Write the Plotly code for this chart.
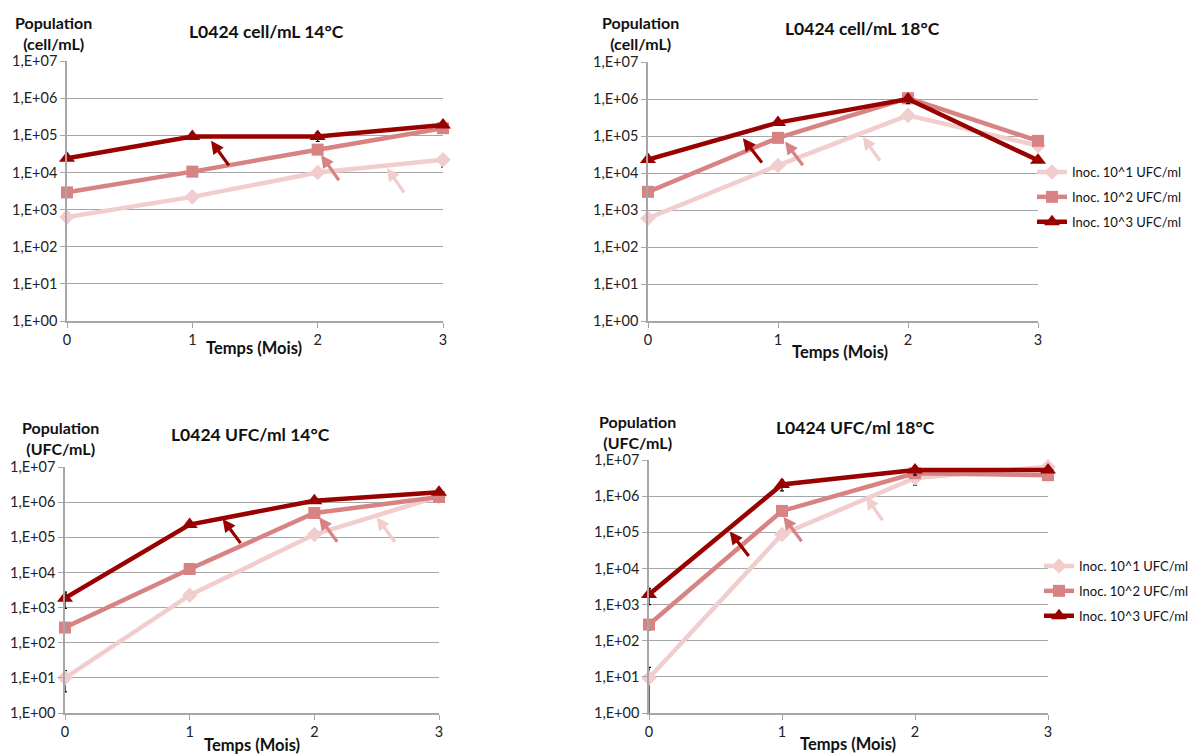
import numpy as np
import plotly.graph_objects as go

W, H = 1189, 754

months = [0, 1, 2, 3]
series_names = ["Inoc. 10^1 UFC/ml", "Inoc. 10^2 UFC/ml", "Inoc. 10^3 UFC/ml"]
tick_vals = [1, 10, 100, 1e3, 1e4, 1e5, 1e6, 1e7]
tick_text = ["1,E+00", "1,E+01", "1,E+02", "1,E+03", "1,E+04", "1,E+05", "1,E+06", "1,E+07"]

# Panel 1: cell/mL 14°C
cell14_s1 = [630, 2200, 10000, 22000]
cell14_s2 = [2900, 10500, 41000, 155000]
cell14_s3 = [24000, 93000, 93000, 190000]
cell14_e1 = [0, 0, 0, 8000]
cell14_e2 = [0, 0, 5000, 20000]
cell14_e3 = [0, 0, 25000, 0]

# Panel 2: cell/mL 18°C
cell18_s1 = [600, 16000, 360000, 55000]
cell18_s2 = [3100, 89000, 1050000, 74000]
cell18_s3 = [23000, 230000, 1000000, 22000]
cell18_e1 = [0, 0, 0, 0]
cell18_e2 = [0, 0, 200000, 0]
cell18_e3 = [0, 0, 250000, 0]

# Panel 3: UFC/ml 14°C
ufc14_s1 = [10, 2250, 120000, 1450000]
ufc14_s2 = [270, 12500, 490000, 1400000]
ufc14_s3 = [1850, 230000, 1100000, 1900000]
ufc14_e1 = [6, 300, 0, 0]
ufc14_e2 = [40, 0, 0, 0]
ufc14_e3 = [900, 40000, 0, 0]

# Panel 4: UFC/ml 18°C
ufc18_s1 = [9.3, 87000, 3200000, 6500000]
ufc18_s2 = [280, 390000, 4300000, 3800000]
ufc18_s3 = [1900, 2100000, 5300000, 5300000]
ufc18_e1 = [9, 15000, 1200000, 0]
ufc18_e2 = [80, 0, 0, 0]
ufc18_e3 = [900, 700000, 1500000, 0]

colors = ["#F2CDCD", "#D88383", "#990000"]
symbols = ["diamond", "square", "triangle-up"]
msizes = [12, 12, 14]

FONT = "Lato, 'Open Sans', sans-serif"

# panel plot-area boxes in pixels: (left, right, top, bottom)
boxes = [
    (67, 443, 61, 321),
    (648, 1038, 62, 321),
    (65, 439, 467, 713),
    (649, 1048, 460, 713),
]
titles = ["L0424 cell/mL 14°C", "L0424 cell/mL 18°C", "L0424 UFC/ml 14°C", "L0424 UFC/ml 18°C"]
title_pos = [(266, 31), (862, 29), (250, 434), (855, 428)]
ytitles = ["Population<br>(cell/mL)", "Population<br>(cell/mL)", "Population<br>(UFC/mL)", "Population<br>(UFC/mL)"]
ytitle_pos = [(53, 33), (640, 33), (60, 438), (637, 432)]
xtitle_pos = [(254, 348), (840, 352), (252, 745), (848, 744)]

panels = [
    ([cell14_s1, cell14_s2, cell14_s3], [cell14_e1, cell14_e2, cell14_e3]),
    ([cell18_s1, cell18_s2, cell18_s3], [cell18_e1, cell18_e2, cell18_e3]),
    ([ufc14_s1, ufc14_s2, ufc14_s3], [ufc14_e1, ufc14_e2, ufc14_e3]),
    ([ufc18_s1, ufc18_s2, ufc18_s3], [ufc18_e1, ufc18_e2, ufc18_e3]),
]

# arrows: (series index, head x, head log10 y, tail x, tail log10 y)
arrows = [
    [(2, 1.149, 4.85, 1.30, 4.15), (1, 2.027, 4.47, 2.178, 3.75), (0, 2.553, 4.12, 2.697, 3.42)],
    [(2, 0.73, 4.94, 0.885, 4.24), (1, 1.054, 4.85, 1.20, 4.17), (0, 1.654, 4.98, 1.792, 4.29)],
    [(2, 1.265, 5.52, 1.417, 4.79), (1, 2.039, 5.57, 2.192, 4.83), (0, 2.50, 5.57, 2.655, 4.83)],
    [(2, 0.607, 5.02, 0.759, 4.30), (1, 1.011, 5.43, 1.155, 4.71), (0, 1.632, 5.99, 1.763, 5.29)],
]

fig = go.Figure()
annotations = []
layout = {}

for p, ((vals, errs), box) in enumerate(zip(panels, boxes)):
    l, r, t, b = box
    xa = "xaxis" if p == 0 else f"xaxis{p+1}"
    ya = "yaxis" if p == 0 else f"yaxis{p+1}"
    xr = "x" if p == 0 else f"x{p+1}"
    yr = "y" if p == 0 else f"y{p+1}"
    layout[xa] = dict(
        domain=[l / W, r / W], anchor=yr, range=[0, 3], tickvals=months,
        ticktext=[str(m) for m in months], showgrid=False, zeroline=False,
        showline=True, linecolor="#A6A6A6", linewidth=1.5,
        ticks="outside", ticklen=5, tickcolor="#A6A6A6", automargin=False,
        tickfont=dict(family=FONT, size=14.5, color="#222"), fixedrange=True,
    )
    layout[ya] = dict(
        domain=[1 - b / H, 1 - t / H], anchor=xr, type="log", range=[0, 7],
        tickvals=tick_vals, ticktext=tick_text, showgrid=True,
        gridcolor="#A6A6A6", gridwidth=1.2, zeroline=False, showline=True,
        linecolor="#A6A6A6", linewidth=1.5, ticks="outside", ticklen=5,
        tickcolor="#A6A6A6", tickfont=dict(family=FONT, size=14.5, color="#222"),
        fixedrange=True, automargin=False,
    )
    leg = None
    if p == 1:
        leg = "legend"
    elif p == 3:
        leg = "legend2"
    for s in range(3):
        fig.add_trace(go.Scatter(
            x=months, y=vals[s], name=series_names[s], mode="lines+markers",
            xaxis=xr, yaxis=yr,
            line=dict(color=colors[s], width=4.5),
            marker=dict(symbol=symbols[s], size=msizes[s], color=colors[s]),
            error_y=dict(type="data", array=errs[s], visible=True,
                         color="#000000", thickness=1.2, width=2),
            showlegend=leg is not None, legend=leg if leg else "legend",
            legendgroup=f"{p}-{s}", cliponaxis=False,
        ))
    for (s, hx, hy, tx, ty) in arrows[p]:
        annotations.append(dict(
            x=hx, y=hy, ax=tx, ay=ty, xref=xr, yref=yr, axref=xr, ayref=yr,
            text="", showarrow=True, arrowhead=2, arrowsize=0.8,
            arrowwidth=3.2, arrowcolor=colors[s],
        ))
    annotations.append(dict(
        x=title_pos[p][0] / W, y=1 - title_pos[p][1] / H, xref="paper", yref="paper",
        text=f"<b>{titles[p]}</b>", showarrow=False,
        font=dict(family=FONT, size=17.5, color="#111"),
        xanchor="center", yanchor="middle",
    ))
    annotations.append(dict(
        x=ytitle_pos[p][0] / W, y=1 - ytitle_pos[p][1] / H, xref="paper", yref="paper",
        text=f"<b>{ytitles[p]}</b>", showarrow=False,
        font=dict(family=FONT, size=16, color="#111"),
        xanchor="center", yanchor="middle", align="center",
    ))
    annotations.append(dict(
        x=xtitle_pos[p][0] / W, y=1 - xtitle_pos[p][1] / H, xref="paper", yref="paper",
        text="<b>Temps (Mois)</b>", showarrow=False,
        font=dict(family=FONT, size=16.5, color="#111"),
        xanchor="center", yanchor="middle",
    ))

fig.update_layout(
    width=W, height=H,
    margin=dict(l=0, r=0, t=0, b=0, autoexpand=False),
    paper_bgcolor="white", plot_bgcolor="white",
    annotations=annotations,
    legend=dict(x=1032 / W, y=1 - 157 / H, xanchor="left", yanchor="top",
                font=dict(family=FONT, size=13, color="#111"),
                tracegroupgap=5, itemwidth=30, bgcolor="rgba(0,0,0,0)"),
    legend2=dict(x=1039 / W, y=1 - 551 / H, xanchor="left", yanchor="top",
                 font=dict(family=FONT, size=13, color="#111"),
                 tracegroupgap=5, itemwidth=30, bgcolor="rgba(0,0,0,0)"),
    **layout,
)

fig.write_html(
    "out.html",
    config={"displayModeBar": False},
    post_script="document.body.style.margin='0';document.body.style.overflow='hidden';",
)
